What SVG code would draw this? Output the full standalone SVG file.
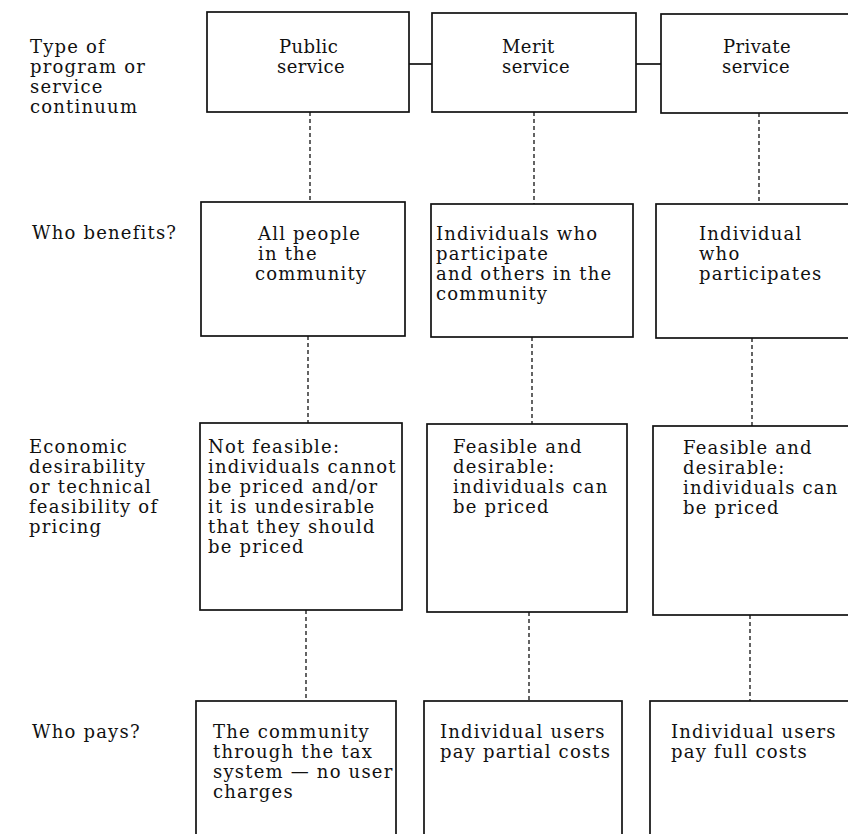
<svg xmlns="http://www.w3.org/2000/svg" width="848" height="834" viewBox="0 0 848 834">
<style>
.t{font-family:"DejaVu Serif","Liberation Serif",serif;font-size:18px;letter-spacing:1.2px;fill:#111}
.h{font-family:"DejaVu Serif","Liberation Serif",serif;font-size:18px;letter-spacing:0.4px;fill:#111}
.box{fill:#fff;stroke:#111;stroke-width:1.7}
.solid{stroke:#111;stroke-width:1.7;fill:none}
.dash{stroke:#111;stroke-width:1.3;stroke-dasharray:4 3;fill:none}
</style>
<rect width="848" height="834" fill="#fff"/>
<g id="connectors">
<line class="solid" x1="409" y1="64" x2="432" y2="64"/>
<line class="solid" x1="636" y1="64" x2="661" y2="64"/>
<line class="dash" x1="310" y1="112" x2="310" y2="202"/>
<line class="dash" x1="308" y1="336" x2="308" y2="423"/>
<line class="dash" x1="306" y1="610" x2="306" y2="701"/>
<line class="dash" x1="534" y1="112" x2="534" y2="204"/>
<line class="dash" x1="532" y1="337" x2="532" y2="424"/>
<line class="dash" x1="529" y1="612" x2="529" y2="701"/>
<line class="dash" x1="759" y1="113" x2="759" y2="204"/>
<line class="dash" x1="752" y1="338" x2="752" y2="426"/>
<line class="dash" x1="750" y1="615" x2="750" y2="701"/>
</g>
<g id="row-labels">
<text class="t" x="30" y="53"><tspan x="30">Type of</tspan><tspan x="30" dy="20">program or</tspan><tspan x="30" dy="20">service</tspan><tspan x="30" dy="20">continuum</tspan></text>
<text class="t" x="32" y="239" letter-spacing="1.4">Who benefits?</text>
<text class="t" x="29" y="453"><tspan x="29">Economic</tspan><tspan x="29" dy="20">desirability</tspan><tspan x="29" dy="20">or technical</tspan><tspan x="29" dy="20">feasibility of</tspan><tspan x="29" dy="20">pricing</tspan></text>
<text class="t" x="32" y="738">Who pays?</text>
</g>
<g id="public-service">
<rect class="box" x="207" y="12" width="202" height="100"/>
<text class="h" x="279" y="53"><tspan x="279">Public</tspan><tspan x="277" dy="20">service</tspan></text>
</g>
<g id="merit-service">
<rect class="box" x="432" y="13" width="204" height="99"/>
<text class="h" x="502" y="53"><tspan x="502">Merit</tspan><tspan x="502" dy="20">service</tspan></text>
</g>
<g id="private-service">
<rect class="box" x="661" y="14" width="200" height="99"/>
<text class="h" x="723" y="53"><tspan x="723">Private</tspan><tspan x="722" dy="20">service</tspan></text>
</g>
<g id="public-benefits">
<rect class="box" x="201" y="202" width="204" height="134"/>
<text class="t" x="258" y="240"><tspan x="258">All people</tspan><tspan x="258" dy="20">in the</tspan><tspan x="255" dy="20">community</tspan></text>
</g>
<g id="merit-benefits">
<rect class="box" x="431" y="204" width="202" height="133"/>
<text class="t" x="436" y="240"><tspan x="436">Individuals who</tspan><tspan x="436" dy="20">participate</tspan><tspan x="436" dy="20">and others in the</tspan><tspan x="436" dy="20">community</tspan></text>
</g>
<g id="private-benefits">
<rect class="box" x="656" y="204" width="205" height="134"/>
<text class="t" x="699" y="240"><tspan x="699">Individual</tspan><tspan x="699" dy="20">who</tspan><tspan x="699" dy="20">participates</tspan></text>
</g>
<g id="public-pricing">
<rect class="box" x="200" y="423" width="202" height="187"/>
<text class="t" x="208" y="453"><tspan x="208">Not feasible:</tspan><tspan x="208" dy="20">individuals cannot</tspan><tspan x="208" dy="20">be priced and/or</tspan><tspan x="208" dy="20">it is undesirable</tspan><tspan x="208" dy="20">that they should</tspan><tspan x="208" dy="20">be priced</tspan></text>
</g>
<g id="merit-pricing">
<rect class="box" x="427" y="424" width="200" height="188"/>
<text class="t" x="453" y="453"><tspan x="453">Feasible and</tspan><tspan x="453" dy="20">desirable:</tspan><tspan x="453" dy="20">individuals can</tspan><tspan x="453" dy="20">be priced</tspan></text>
</g>
<g id="private-pricing">
<rect class="box" x="653" y="426" width="208" height="189"/>
<text class="t" x="683" y="454"><tspan x="683">Feasible and</tspan><tspan x="683" dy="20">desirable:</tspan><tspan x="683" dy="20">individuals can</tspan><tspan x="683" dy="20">be priced</tspan></text>
</g>
<g id="public-pays">
<rect class="box" x="196" y="701" width="200" height="145"/>
<text class="t" x="213" y="738"><tspan x="213">The community</tspan><tspan x="213" dy="20">through the tax</tspan><tspan x="213" dy="20">system — no user</tspan><tspan x="213" dy="20">charges</tspan></text>
</g>
<g id="merit-pays">
<rect class="box" x="424" y="701" width="198" height="145"/>
<text class="t" x="440" y="738" letter-spacing="0.8"><tspan x="440">Individual users</tspan><tspan x="440" dy="20">pay partial costs</tspan></text>
</g>
<g id="private-pays">
<rect class="box" x="650" y="701" width="211" height="145"/>
<text class="t" x="671" y="738"><tspan x="671">Individual users</tspan><tspan x="671" dy="20">pay full costs</tspan></text>
</g>
</svg>
